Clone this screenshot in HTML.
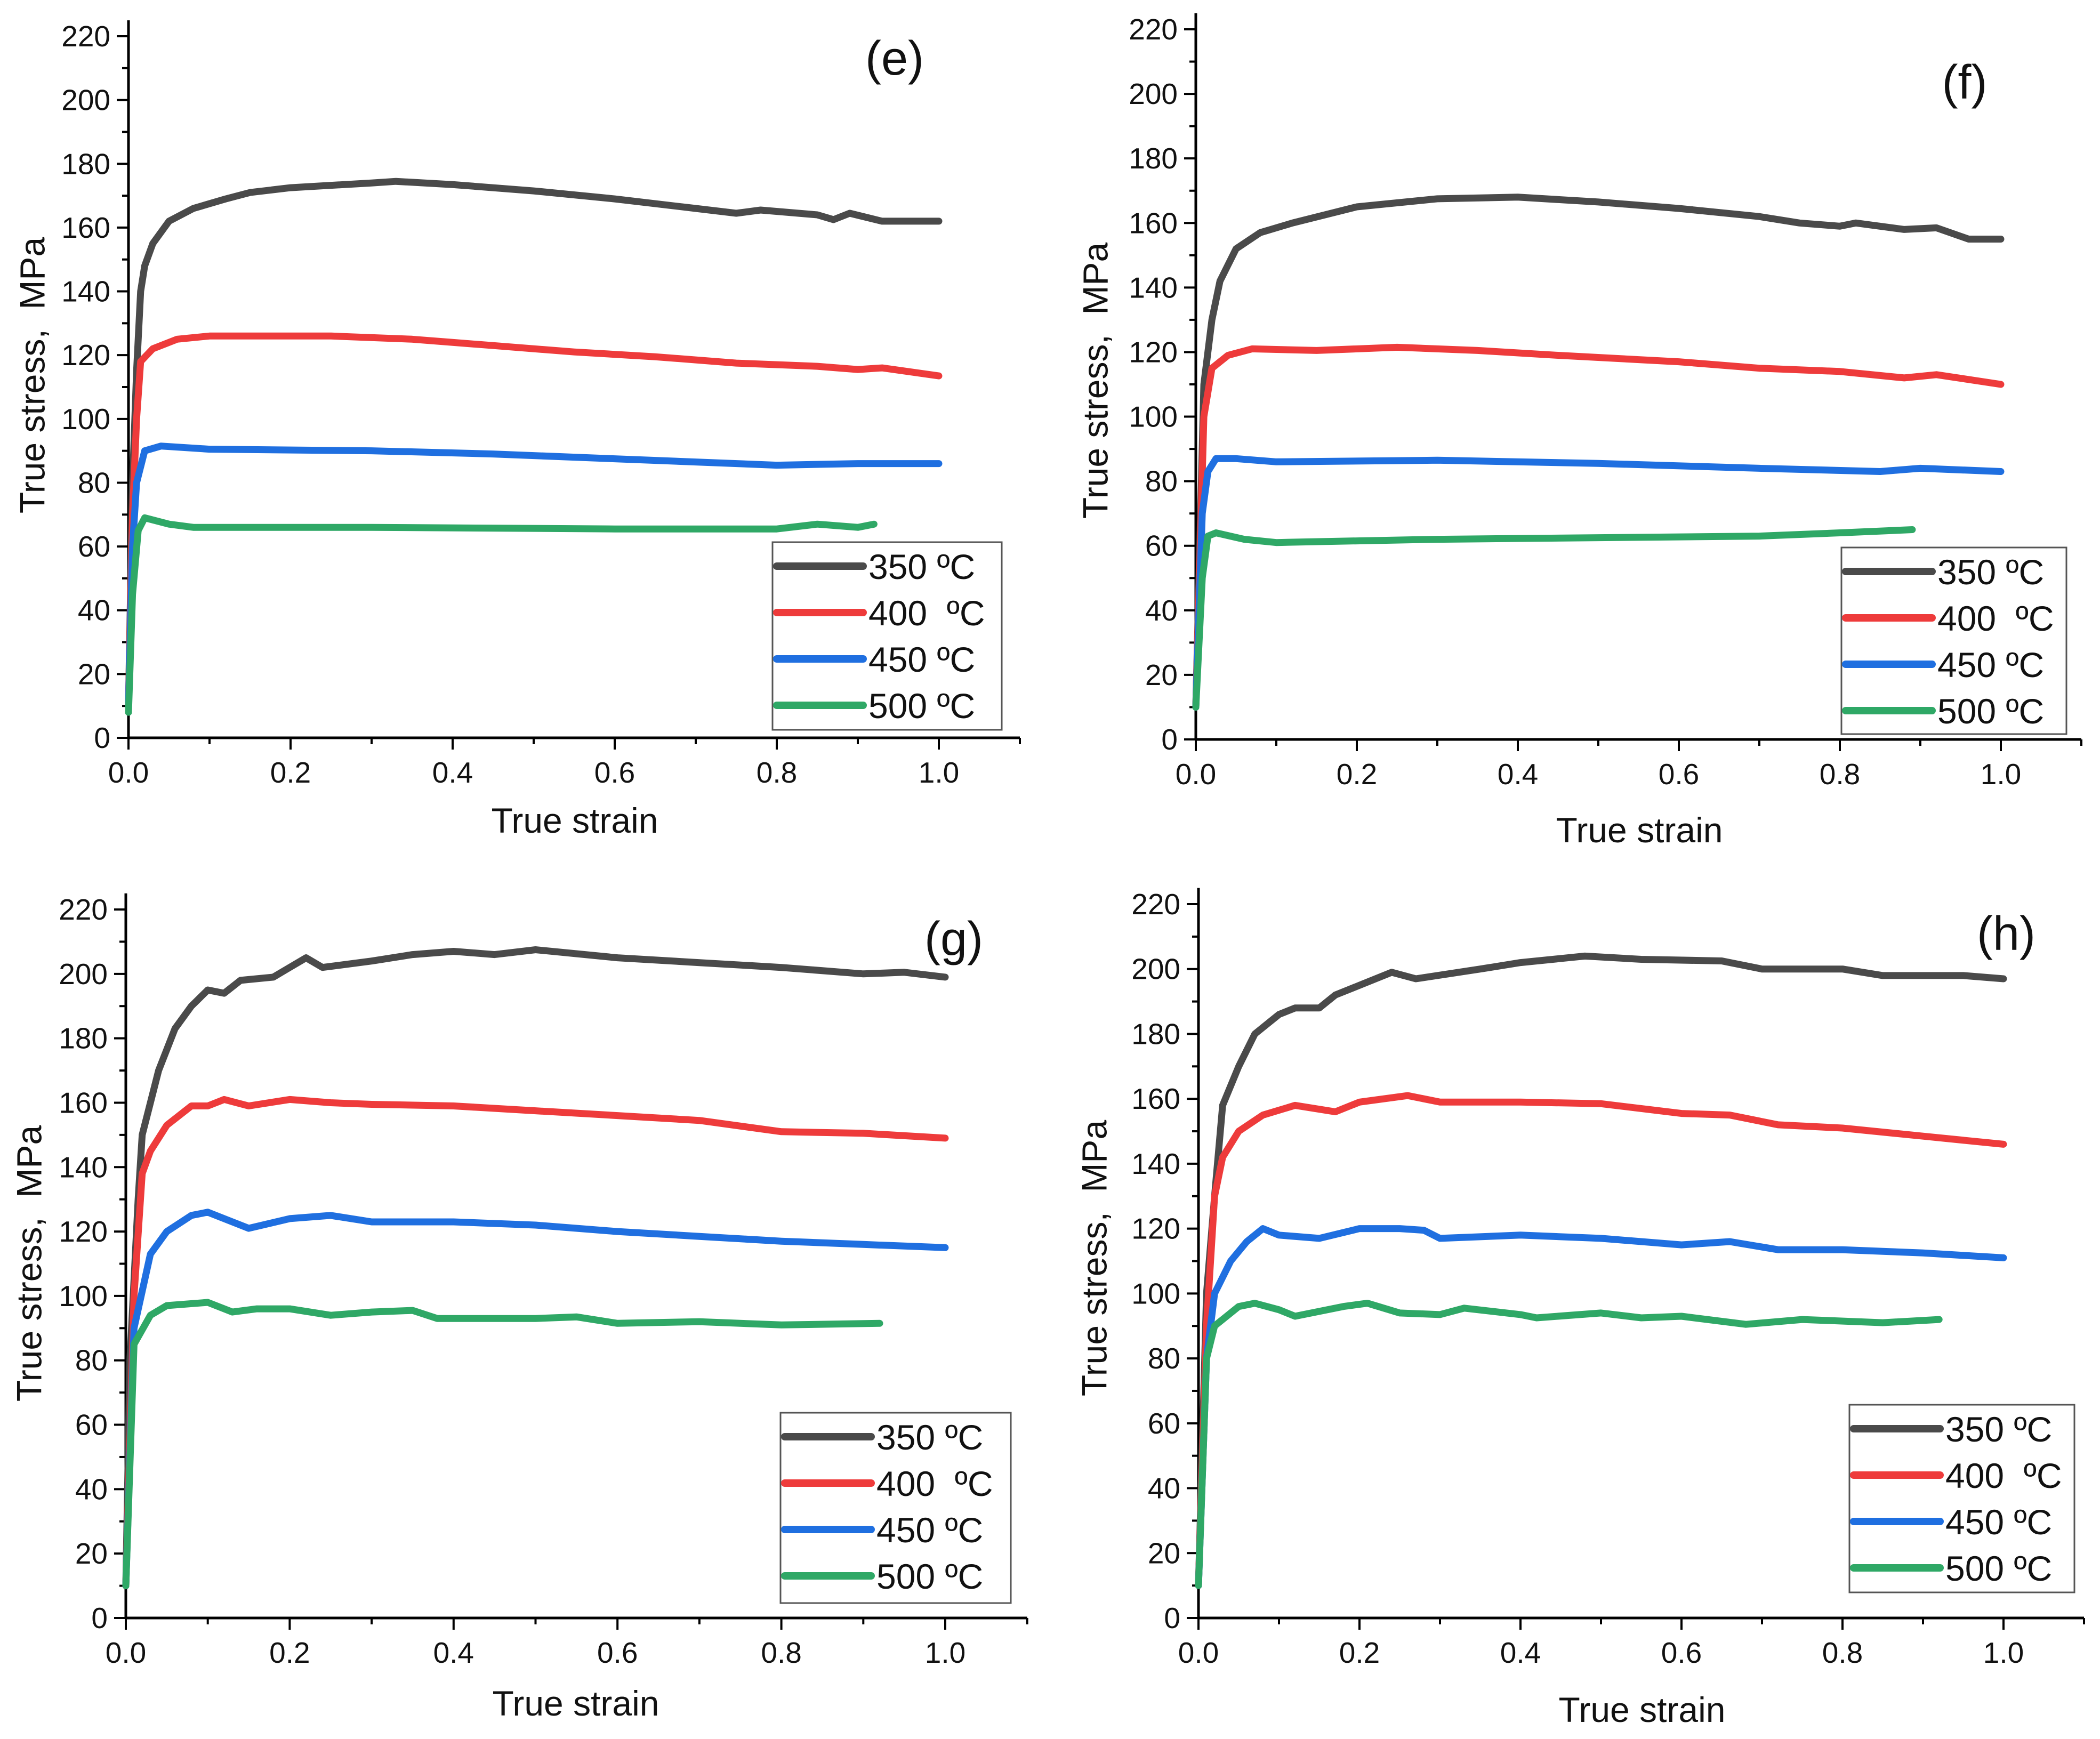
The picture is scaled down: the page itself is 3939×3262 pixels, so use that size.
<!DOCTYPE html>
<html><head><meta charset="utf-8"><style>
html,body{margin:0;padding:0;background:#fff}
svg{display:block}
text{font-family:"Liberation Sans",Arial,sans-serif;fill:#111;white-space:pre}
</style></head><body>
<svg id="fig" width="3939" height="3262" viewBox="0 0 3939 3262" xmlns="http://www.w3.org/2000/svg"></svg>
<script>
// ---- data ----
const seriesNames = ["350 ºC","400  ºC","450 ºC","500 ºC"];
const seriesColors = ["#4a4a4a","#ee3b3b","#1f6fe0","#2fa866"];
const yTicks = [0,20,40,60,80,100,120,140,160,180,200,220];
const xTicks = [0.0,0.2,0.4,0.6,0.8,1.0];
const xTickLabels = ["0.0","0.2","0.4","0.6","0.8","1.0"];

const e350=[[0,10],[0.005,80],[0.01,115],[0.015,140],[0.02,148],[0.03,155],[0.05,162],[0.08,166],[0.12,169],[0.15,171],[0.2,172.5],[0.3,174],[0.33,174.5],[0.4,173.5],[0.5,171.5],[0.6,169],[0.7,166],[0.75,164.5],[0.78,165.5],[0.85,164],[0.87,162.5],[0.89,164.5],[0.93,162],[1.0,162]];
const e400=[[0,10],[0.005,70],[0.01,100],[0.015,118],[0.03,122],[0.06,125],[0.1,126],[0.25,126],[0.35,125],[0.45,123],[0.55,121],[0.65,119.5],[0.75,117.5],[0.85,116.5],[0.9,115.5],[0.93,116],[1.0,113.5]];
const e450=[[0,10],[0.005,60],[0.01,80],[0.02,90],[0.04,91.5],[0.1,90.5],[0.3,90],[0.45,89],[0.6,87.5],[0.7,86.5],[0.8,85.5],[0.9,86],[1.0,86]];
const e500=[[0,8],[0.005,45],[0.012,65],[0.02,69],[0.05,67],[0.08,66],[0.3,66],[0.6,65.5],[0.8,65.5],[0.85,67],[0.9,66],[0.92,67]];

const f350=[[0,10],[0.01,110],[0.02,130],[0.03,142],[0.05,152],[0.08,157],[0.12,160],[0.2,165],[0.3,167.5],[0.4,168],[0.5,166.5],[0.6,164.5],[0.7,162],[0.75,160],[0.8,159],[0.82,160],[0.88,158],[0.92,158.5],[0.96,155],[1.0,155]];
const f400=[[0,10],[0.01,100],[0.02,115],[0.04,119],[0.07,121],[0.15,120.5],[0.25,121.5],[0.35,120.5],[0.45,119],[0.6,117],[0.7,115],[0.8,114],[0.88,112],[0.92,113],[1.0,110]];
const f450=[[0,10],[0.008,70],[0.015,83],[0.025,87],[0.05,87],[0.1,86],[0.3,86.5],[0.5,85.5],[0.7,84],[0.85,83],[0.9,84],[1.0,83]];
const f500=[[0,10],[0.008,50],[0.015,63],[0.025,64],[0.06,62],[0.1,61],[0.2,61.5],[0.3,62],[0.5,62.5],[0.7,63],[0.8,64],[0.89,65]];

const g350=[[0,10],[0.005,80],[0.015,130],[0.02,150],[0.03,160],[0.04,170],[0.06,183],[0.08,190],[0.1,195],[0.12,194],[0.14,198],[0.18,199],[0.2,202],[0.22,205],[0.24,202],[0.3,204],[0.35,206],[0.4,207],[0.45,206],[0.5,207.5],[0.6,205],[0.7,203.5],[0.8,202],[0.9,200],[0.95,200.5],[1.0,199]];
const g400=[[0,10],[0.01,100],[0.02,138],[0.03,145],[0.05,153],[0.08,159],[0.1,159],[0.12,161],[0.15,159],[0.2,161],[0.25,160],[0.3,159.5],[0.4,159],[0.5,157.5],[0.6,156],[0.7,154.5],[0.8,151],[0.9,150.5],[1.0,149]];
const g450=[[0,10],[0.01,90],[0.03,113],[0.05,120],[0.08,125],[0.1,126],[0.15,121],[0.2,124],[0.25,125],[0.3,123],[0.4,123],[0.5,122],[0.6,120],[0.7,118.5],[0.8,117],[0.9,116],[1.0,115]];
const g500=[[0,10],[0.01,85],[0.03,94],[0.05,97],[0.1,98],[0.13,95],[0.16,96],[0.2,96],[0.25,94],[0.3,95],[0.35,95.5],[0.38,93],[0.5,93],[0.55,93.5],[0.6,91.5],[0.7,92],[0.8,91],[0.92,91.5]];

const h350=[[0,10],[0.01,100],[0.02,130],[0.03,158],[0.05,170],[0.07,180],[0.1,186],[0.12,188],[0.15,188],[0.17,192],[0.2,195],[0.24,199],[0.27,197],[0.35,200],[0.4,202],[0.48,204],[0.55,203],[0.65,202.5],[0.7,200],[0.8,200],[0.85,198],[0.95,198],[1.0,197]];
const h400=[[0,10],[0.01,90],[0.02,130],[0.03,142],[0.05,150],[0.08,155],[0.12,158],[0.17,156],[0.2,159],[0.26,161],[0.3,159],[0.4,159],[0.5,158.5],[0.6,155.5],[0.66,155],[0.72,152],[0.8,151],[0.9,148.5],[1.0,146]];
const h450=[[0,10],[0.01,80],[0.02,100],[0.04,110],[0.06,116],[0.08,120],[0.1,118],[0.15,117],[0.2,120],[0.25,120],[0.28,119.5],[0.3,117],[0.4,118],[0.5,117],[0.6,115],[0.66,116],[0.72,113.5],[0.8,113.5],[0.9,112.5],[1.0,111]];
const h500=[[0,10],[0.01,80],[0.02,90],[0.05,96],[0.07,97],[0.1,95],[0.12,93],[0.18,96],[0.21,97],[0.25,94],[0.3,93.5],[0.33,95.5],[0.4,93.5],[0.42,92.5],[0.5,94],[0.55,92.5],[0.6,93],[0.68,90.5],[0.75,92],[0.85,91],[0.92,92]];

// ---- layout ----
const panels=[
 {id:"e",x0:241,x1:1761,y0:1384,y220:68,label:[1678,140],leg:[1449,1017,430,352],title:[1078,1562],ytitle:[66,704],data:[e350,e400,e450,e500]},
 {id:"f",x0:2243,x1:3753,y0:1387,y220:55,label:[3685,185],leg:[3454,1027,422,350],title:[3075,1580],ytitle:[2060,714],data:[f350,f400,f450,f500]},
 {id:"g",x0:236,x1:1773,y0:3035,y220:1706,label:[1789,1792],leg:[1464,2650,432,357],title:[1080,3218],ytitle:[60,2370],data:[g350,g400,g450,g500]},
 {id:"h",x0:2248,x1:3758,y0:3035,y220:1696,label:[3763,1782],leg:[3469,2635,422,352],title:[3080,3230],ytitle:[2058,2360],data:[h350,h400,h450,h500]}
];
const NS="http://www.w3.org/2000/svg";
const svg=document.getElementById("fig");
function mk(tag,attrs,parent){const el=document.createElementNS(NS,tag);for(const k in attrs)el.setAttribute(k,attrs[k]);(parent||svg).appendChild(el);return el;}

panels.forEach(p=>{
 const g=mk("g",{});
 
 
 const sx=v=>p.x0+(p.x1-p.x0)*v;
 const sy=v=>p.y0-(p.y0-p.y220)*v/220;
 const ya=mk("line",{x1:p.x0,y1:sy(225),x2:p.x0,y2:p.y0,stroke:"#000","stroke-width":5},g);
 
 
 const xa=mk("line",{x1:p.x0,y1:p.y0,x2:sx(1.1),y2:p.y0,stroke:"#000","stroke-width":5},g);
 
 
 for(let v=0;v<=220;v+=10){const maj=v%20===0;mk("line",{x1:p.x0,x2:p.x0-(maj?22:12),y1:sy(v),y2:sy(v),stroke:"#000","stroke-width":4},g);}
 yTicks.forEach(v=>{const t=mk("text",{x:p.x0-34,y:sy(v)+19,"text-anchor":"end","font-size":55},g);t.textContent=v;
  
  });
 for(let i=0;i<=11;i++){const v=i/10;const maj=i%2===0&&i<=10;mk("line",{x1:sx(v),x2:sx(v),y1:p.y0,y2:p.y0+(maj?22:12),stroke:"#000","stroke-width":4},g);}
 xTicks.forEach((v,i)=>{const t=mk("text",{x:sx(v),y:p.y0+84,"text-anchor":"middle","font-size":55},g);t.textContent=xTickLabels[i];
  
  });
 const xt=mk("text",{x:p.title[0],y:p.title[1],"text-anchor":"middle","font-size":66},g);xt.textContent="True strain";
 
 
 const yt=mk("text",{x:p.ytitle[0],y:p.ytitle[1],"text-anchor":"middle","font-size":66,transform:`rotate(-90 ${p.ytitle[0]} ${p.ytitle[1]})`,"dominant-baseline":"middle"},g);yt.textContent="True stress,  MPa";
 
 
 const lb=mk("text",{x:p.label[0],y:p.label[1],"text-anchor":"middle","font-size":90},g);lb.textContent="("+p.id+")";
 
 
 p.data.forEach((d,si)=>{
  const pts=d.map(q=>sx(q[0]).toFixed(1)+","+sy(q[1]).toFixed(1)).join(" ");
  const pl=mk("polyline",{points:pts,fill:"none",stroke:seriesColors[si],"stroke-width":13,"stroke-linejoin":"round","stroke-linecap":"round"},g);
  
  
 });
 const [lx,ly,lw,lh]=p.leg;
 const lg=mk("g",{},g);
 
 
 mk("rect",{x:lx,y:ly,width:lw,height:lh,fill:"#fff",stroke:"#555","stroke-width":3},lg);
 seriesNames.forEach((n,i)=>{
  const cy=ly+45+i*87;
  const ln=mk("line",{x1:lx+8,x2:lx+170,y1:cy,y2:cy,stroke:seriesColors[i],"stroke-width":14,"stroke-linecap":"round"},lg);
  
  
  const t=mk("text",{x:lx+180,y:cy+24,"font-size":66},lg);t.textContent=n;
  
  
 });
});
</script>
</body></html>
